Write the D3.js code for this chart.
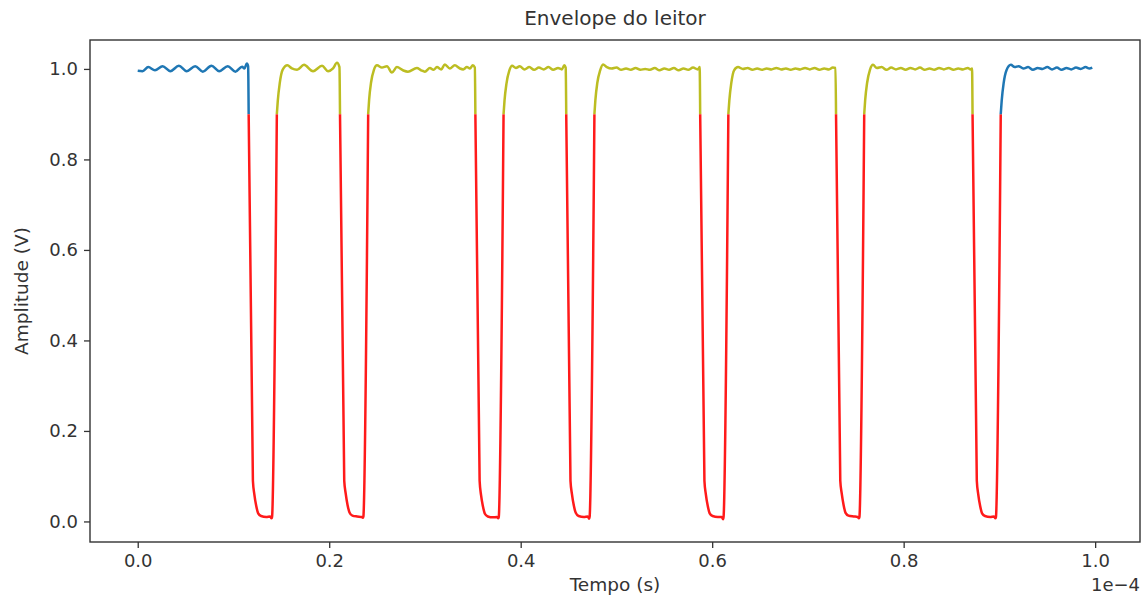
<!DOCTYPE html>
<html>
<head>
<meta charset="utf-8">
<script src="https://cdn.jsdelivr.net/npm/d3@7"></script>
<style>
  html, body { margin: 0; padding: 0; background: #fff; }
  svg { display: block; }
  text { font-family: "DejaVu Sans", sans-serif; fill: #333; }
</style>
</head>
<body>
<svg id="chart" width="1143" height="598"></svg>
<script>
// ---- data (tempo in units of 1e-4 s, amplitude in V) ----
const envelope = [
  [0.000,0.996],[0.005,0.995],[0.011,1.004],[0.018,0.997],[0.026,1.006],[0.034,0.995],[0.043,1.007],[0.051,0.995],
  [0.060,1.006],[0.068,0.994],[0.077,1.007],[0.085,0.995],[0.094,1.006],[0.102,0.994],[0.109,1.005],[0.1115,1.001],[0.1140,1.012],
  [0.1153,1.006],[0.1203,0.09],[0.1218,0.06],[0.1238,0.034],[0.1258,0.018],[0.1288,0.012],[0.1343,0.010],[0.1383,0.011],[0.1398,0.007],[0.1403,0.010],
  [0.1453,0.900],[0.1463,0.930],[0.1483,0.968],[0.1513,0.998],[0.1563,1.008],
  [0.1610,1.001],[0.1664,0.998],[0.1737,1.009],[0.1831,0.995],[0.1925,1.007],[0.1988,0.995],[0.2040,1.001],[0.2081,1.0135],
  [0.2107,1.004],[0.2157,0.09],[0.2172,0.062],[0.2192,0.036],[0.2212,0.020],[0.2242,0.013],[0.2292,0.011],[0.2337,0.010],[0.2352,0.008],[0.2357,0.011],
  [0.2407,0.900],[0.2417,0.932],[0.2437,0.970],[0.2467,0.998],
  [0.2499,1.008],[0.2551,1.003],[0.2603,1.006],[0.2655,0.992],[0.2707,1.004],[0.2770,0.997],[0.2822,0.994],[0.2916,1.002],[0.2960,0.997],
  [0.2999,0.994],[0.3052,1.002],[0.3090,0.998],[0.3125,1.004],[0.3170,0.999],[0.3208,1.010],[0.3260,1.001],[0.3312,1.008],[0.3365,1.001],
  [0.3400,0.999],[0.3438,1.004],[0.3470,1.001],[0.3500,1.008],
  [0.3521,1.003],[0.3571,0.09],[0.3586,0.058],[0.3606,0.033],[0.3626,0.017],[0.3656,0.011],[0.3711,0.009],[0.3751,0.010],[0.3766,0.007],[0.3771,0.010],
  [0.3821,0.900],[0.3831,0.930],[0.3851,0.967],[0.3881,0.996],
  [0.3910,1.007],[0.3950,1.002],[0.3990,1.006],[0.4040,0.999],[0.4090,1.004],[0.4140,0.998],[0.4190,1.003],[0.4240,0.999],[0.4290,1.004],
  [0.4340,0.998],[0.4390,1.002],[0.4430,0.999],[0.4455,1.008],
  [0.4470,1.003],[0.4520,0.09],[0.4535,0.061],[0.4555,0.035],[0.4575,0.019],[0.4605,0.012],[0.4660,0.010],[0.4700,0.011],[0.4715,0.006],[0.4720,0.010],
  [0.4770,0.900],[0.4780,0.931],[0.4800,0.969],[0.4830,0.997],
  [0.4860,1.010],[0.4900,1.004],[0.4950,1.001],[0.5000,1.003],[0.5050,0.998],[0.5100,1.001],[0.5150,0.998],[0.5200,1.002],[0.5250,0.998],
  [0.5300,1.000],[0.5350,0.998],[0.5400,1.002],[0.5450,0.997],[0.5500,1.001],[0.5550,0.998],[0.5600,1.002],[0.5650,0.997],[0.5700,1.001],
  [0.5750,0.998],[0.5800,1.003],[0.5850,0.999],
  [0.5869,1.004],[0.5919,0.09],[0.5934,0.060],[0.5954,0.034],[0.5974,0.018],[0.6004,0.012],[0.6059,0.010],[0.6099,0.010],[0.6114,0.005],[0.6119,0.010],
  [0.6169,0.900],[0.6179,0.930],[0.6199,0.968],[0.6229,0.997],
  [0.6270,1.004],[0.6320,1.000],[0.6370,1.002],[0.6420,0.998],[0.6470,1.001],[0.6520,0.998],[0.6570,1.001],[0.6620,0.999],[0.6670,1.002],
  [0.6720,0.999],[0.6770,1.001],[0.6820,0.998],[0.6870,1.001],[0.6920,0.999],[0.6970,1.002],[0.7020,0.999],[0.7070,1.002],[0.7120,0.998],
  [0.7170,1.001],[0.7220,0.999],[0.7260,1.003],
  [0.7288,1.002],[0.7338,0.09],[0.7353,0.062],[0.7373,0.036],[0.7393,0.019],[0.7423,0.013],[0.7478,0.011],[0.7518,0.010],[0.7533,0.007],[0.7538,0.010],
  [0.7588,0.900],[0.7598,0.931],[0.7618,0.969],[0.7648,0.998],
  [0.7680,1.009],[0.7720,1.002],[0.7770,1.004],[0.7820,0.998],[0.7870,1.003],[0.7920,0.999],[0.7970,1.002],[0.8020,0.998],[0.8070,1.002],
  [0.8120,0.999],[0.8170,1.003],[0.8220,0.998],[0.8270,1.001],[0.8320,0.998],[0.8370,1.002],[0.8420,0.999],[0.8470,1.002],[0.8520,0.998],
  [0.8570,1.001],[0.8620,0.999],[0.8670,1.002],[0.8700,0.999],
  [0.8714,1.001],[0.8764,0.09],[0.8779,0.060],[0.8799,0.034],[0.8819,0.018],[0.8849,0.012],[0.8904,0.010],[0.8944,0.011],[0.8959,0.007],[0.8964,0.010],
  [0.9014,0.900],[0.9024,0.930],[0.9044,0.968],[0.9074,0.997],
  [0.9120,1.009],[0.9160,1.004],[0.9200,1.006],[0.9250,1.001],[0.9300,1.004],[0.9350,0.998],[0.9400,1.002],[0.9450,1.000],[0.9500,1.004],
  [0.9550,0.999],[0.9600,1.003],[0.9650,0.998],[0.9700,1.002],[0.9750,0.999],[0.9800,1.003],[0.9850,1.000],[0.9900,1.004],[0.9940,1.001],[0.9970,1.003]
];
const threshold = 0.9;
const xTicks = [0.0, 0.2, 0.4, 0.6, 0.8, 1.0];
const yTicks = [0.0, 0.2, 0.4, 0.6, 0.8, 1.0];
const colors = { edge: "#1f77b4", high: "#bcbd22", low: "#ff1a1a" };
const titleText = "Envelope do leitor";
const xLabel = "Tempo (s)";
const yLabel = "Amplitude (V)";
const offsetText = "1e\u22124";

// ---- layout ----
const svg = d3.select("#chart");
const L = 90, R = 1140, T = 40, B = 542;

const xExt = d3.extent(envelope, d => d[0]);
const yExt = d3.extent(envelope, d => d[1]);
const xPad = (xExt[1] - xExt[0]) * 0.05, yPad = (yExt[1] - yExt[0]) * 0.05;
const x = d3.scaleLinear().domain([xExt[0] - xPad, xExt[1] + xPad]).range([L, R]);
const y = d3.scaleLinear().domain([yExt[0] - yPad, yExt[1] + yPad]).range([B, T]);

// split into runs above/below threshold
const runs = [];
let cur = null;
for (let i = 0; i < envelope.length; i++) {
  const p = envelope[i];
  const low = p[1] < threshold;
  if (cur === null) { cur = { low, pts: [p] }; runs.push(cur); continue; }
  if (low !== cur.low) {
    const q = envelope[i - 1];
    const f = (threshold - q[1]) / (p[1] - q[1]);
    const cross = [q[0] + f * (p[0] - q[0]), threshold];
    cur.pts.push(cross);
    cur = { low, pts: [cross, p] };
    runs.push(cur);
  } else cur.pts.push(p);
}
const highRuns = runs.filter(r => !r.low);
runs.forEach(r => {
  if (r.low) r.color = colors.low;
  else if (r === highRuns[0] || r === highRuns[highRuns.length - 1]) r.color = colors.edge;
  else r.color = colors.high;
});

const line = d3.line().x(d => x(d[0])).y(d => y(d[1])).curve(d3.curveMonotoneX);

const plot = svg.append("g");
plot.append("defs").append("clipPath").attr("id", "clip")
  .append("rect").attr("x", L).attr("y", T).attr("width", R - L).attr("height", B - T);
plot.append("g").attr("clip-path", "url(#clip)")
  .selectAll("path").data(runs).join("path")
  .attr("d", r => line(r.pts))
  .attr("fill", "none")
  .attr("stroke", r => r.color)
  .attr("stroke-width", 2.5)
  .attr("stroke-linejoin", "round")
  .attr("stroke-linecap", "butt");

// axes
const fmt = d3.format(".1f");
const xAxis = svg.append("g").attr("transform", `translate(0,${B})`)
  .call(d3.axisBottom(x).tickValues(xTicks).tickFormat(fmt).tickSize(6).tickPadding(6).tickSizeOuter(0));
const yAxis = svg.append("g").attr("transform", `translate(${L},0)`)
  .call(d3.axisLeft(y).tickValues(yTicks).tickFormat(fmt).tickSize(6).tickPadding(6).tickSizeOuter(0));
[xAxis, yAxis].forEach(a => {
  a.select(".domain").remove();
  a.selectAll(".tick line").attr("stroke", "#333").attr("stroke-width", 1.3);
  a.selectAll(".tick text").attr("font-size", 18).attr("font-family", "DejaVu Sans").attr("fill", "#333");
});

// frame
svg.append("rect").attr("x", L).attr("y", T).attr("width", R - L).attr("height", B - T)
  .attr("fill", "none").attr("stroke", "#333").attr("stroke-width", 1.4);

// texts
svg.append("text").attr("x", (L + R) / 2).attr("y", 25).attr("text-anchor", "middle")
  .attr("font-size", 20).text(titleText);
svg.append("text").attr("x", (L + R) / 2).attr("y", 591).attr("text-anchor", "middle")
  .attr("font-size", 18.5).text(xLabel);
svg.append("text").attr("transform", `translate(28,${(T + B) / 2}) rotate(-90)`).attr("text-anchor", "middle")
  .attr("font-size", 18.5).text(yLabel);
svg.append("text").attr("x", R).attr("y", 591).attr("text-anchor", "end")
  .attr("font-size", 18).text(offsetText);
</script>
</body>
</html>
